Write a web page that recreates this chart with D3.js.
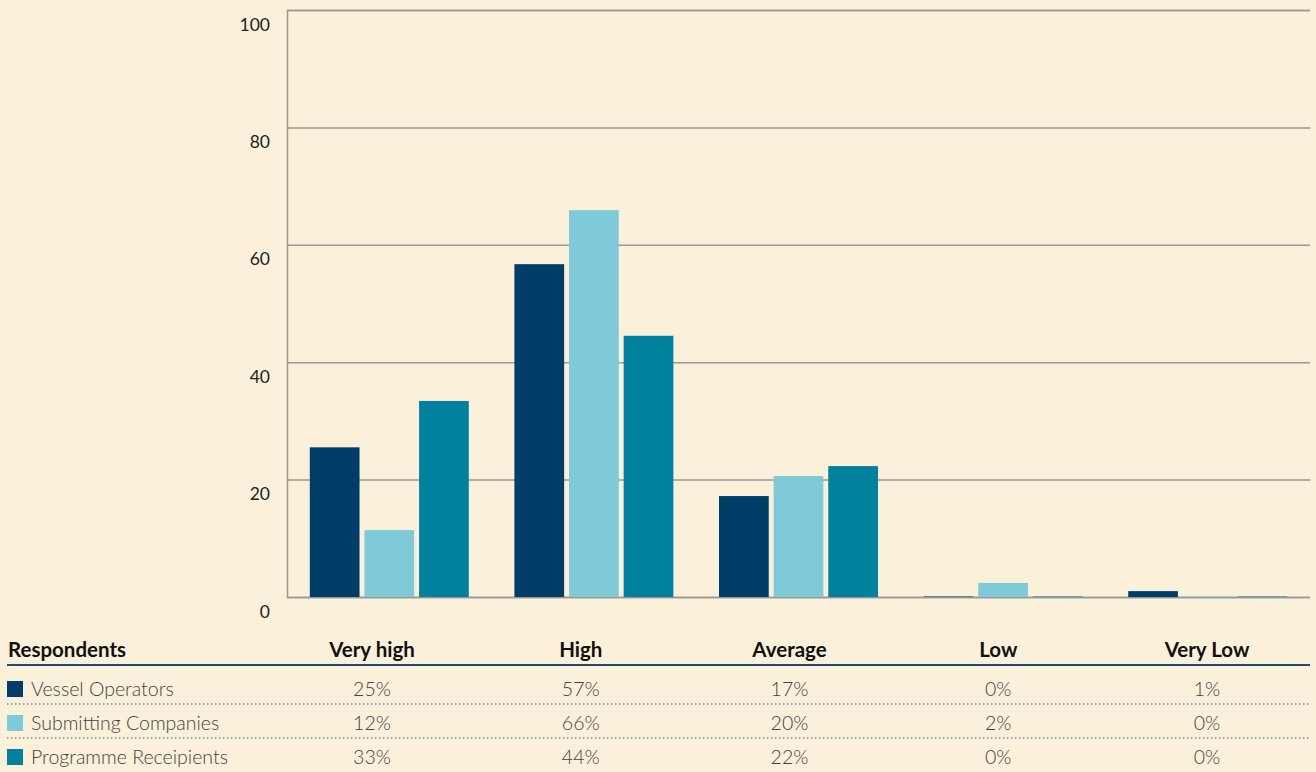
<!DOCTYPE html>
<html>
<head>
<meta charset="utf-8">
<title>Respondents</title>
<style>
    body{ margin:0; background:#fbf0da; }
    text{ font-family: Lato, "Noto Sans", sans-serif; }
    .tick text{ font-size:17.5px; fill:#222; }
    .head{ font-size:20.5px; font-weight:bold; fill:#111; }
    .cell{ font-size:19.5px; font-weight:300; fill:#444; }
</style>
<script src="https://cdn.jsdelivr.net/npm/d3@7"></script>
</head>
<body>
<script>
var width = 1316, height = 772;

// data
var categories = ["Very high", "High", "Average", "Low", "Very Low"];
var series = ["Vessel Operators", "Submitting Companies", "Programme Receipients"];
var colors = ["#003d69", "#7fcad9", "#00829f"];
var barValues = [
    [25.5, 56.7, 17.2, 0, 1.0],   // Vessel Operators
    [11.4, 65.9, 20.6, 2.4, 0],   // Submitting Companies
    [33.4, 44.5, 22.3, 0, 0]      // Programme Receipients
];
var tableLabels = [
    ["25%", "57%", "17%", "0%", "1%"],
    ["12%", "66%", "20%", "2%", "0%"],
    ["33%", "44%", "22%", "0%", "0%"]
];
var yTicks = [0, 20, 40, 60, 80, 100];

var plot = {left: 287, right: 1310, top: 10, bottom: 597};

var svg = d3.select("body").append("svg")
    .attr("width", width)
    .attr("height", height);

var y = d3.scaleLinear().domain([0, 100]).range([plot.bottom, plot.top]);
var x0 = d3.scaleBand().domain(categories).range([plot.left, plot.right])
    .paddingInner(0.223).paddingOuter(0.1115);
var x1 = d3.scaleBand().domain(series).range([0, x0.bandwidth()]).paddingInner(0.09);

// grid + y labels
var yAxis = d3.axisLeft(y).tickValues(yTicks).tickSize(-(plot.right - plot.left)).tickPadding(17);
var ga = svg.append("g").attr("transform", "translate(" + plot.left + ",0)").call(yAxis);
ga.select(".domain").attr("stroke", "#999").attr("stroke-width", 1.5);
ga.selectAll(".tick line").attr("stroke", "#999").attr("stroke-width", 1.5);
ga.selectAll(".tick text").attr("dy", "1.15em").attr("font-family", null).attr("font-size", null);

// bars
var groups = svg.append("g").selectAll("g")
    .data(categories)
    .join("g")
    .attr("transform", function(d){ return "translate(" + x0(d) + ",0)"; });

groups.selectAll("rect")
    .data(function(d, ci){
        return series.map(function(s, si){ return {s: s, si: si, v: barValues[si][ci]}; });
    })
    .join("rect")
    .attr("x", function(d){ return x1(d.s); })
    .attr("width", x1.bandwidth())
    .attr("y", function(d){ return Math.min(y(d.v), plot.bottom - 1); })
    .attr("height", function(d){ return Math.max(plot.bottom - y(d.v), 1); })
    .attr("fill", function(d){ return colors[d.si]; })
    .attr("opacity", function(d){ return d.v == 0 ? 0.5 : 1; });

// table
var colX = d3.scalePoint().domain(categories).range([372, 1207]);
var headY = 657, rowY0 = 696, rowStep = 34;

svg.append("text").attr("class", "head").attr("x", 8).attr("y", headY).text("Respondents");
svg.selectAll(".colhead").data(categories).join("text")
    .attr("class", "head colhead")
    .attr("x", function(d){ return colX(d); })
    .attr("y", headY)
    .attr("text-anchor", "middle")
    .text(function(d){ return d; });

svg.append("line")
    .attr("x1", 7).attr("x2", plot.right)
    .attr("y1", 665).attr("y2", 665)
    .attr("stroke", "#1f4b73").attr("stroke-width", 2);

var rows = svg.append("g").selectAll("g").data(series).join("g")
    .attr("transform", function(d, i){ return "translate(0," + (rowY0 + i * rowStep) + ")"; });

rows.append("rect")
    .attr("x", 7).attr("y", -15).attr("width", 16).attr("height", 16)
    .attr("fill", function(d, i){ return colors[i]; });
rows.append("text")
    .attr("class", "cell")
    .attr("x", 31).attr("y", 0)
    .text(function(d){ return d; });
rows.selectAll(".val")
    .data(function(d, i){ return tableLabels[i]; })
    .join("text")
    .attr("class", "cell val")
    .attr("x", function(d, ci){ return colX(categories[ci]); })
    .attr("y", 0)
    .attr("text-anchor", "middle")
    .text(function(d){ return d; });

// dotted separators between rows
rows.filter(function(d, i){ return i < series.length - 1; })
    .append("line")
    .attr("x1", 7).attr("x2", plot.right)
    .attr("y1", 8).attr("y2", 8)
    .attr("stroke", "#2a5a85").attr("stroke-width", 1.2)
    .attr("stroke-dasharray", "1.5,2.5");
</script>
</body>
</html>
